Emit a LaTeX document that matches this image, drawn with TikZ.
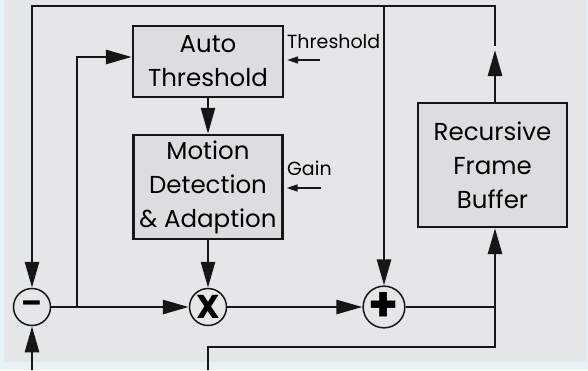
\documentclass[tikz,border=0pt]{standalone}
\usepackage{fontspec}
\setmainfont{Poppins}
\usepackage{tikz}
\usetikzlibrary{arrows.meta, positioning}
\definecolor{panel}{RGB}{229,230,232}
\definecolor{sky}{RGB}{232,243,248}
\definecolor{boxgray}{RGB}{220,221,223}
\definecolor{ink}{RGB}{22,22,22}

\begin{document}
\begin{tikzpicture}[
  x=1pt, y=-1pt,
  >={Triangle[length=26pt, width=14pt]},
  block/.style={
    rectangle, draw=ink, fill=boxgray, line width=2.4pt,
    inner sep=0pt, align=center,
    font=\fontsize{24.5}{34}\selectfont
  },
  junction/.style={
    circle, draw=ink, fill=panel, line width=1.5pt,
    minimum size=37pt, inner sep=0pt,
    font=\bfseries\fontsize{30}{30}\selectfont
  },
  wire/.style={draw=ink, line width=2.7pt},
  lbl/.style={font=\fontsize{19}{22}\selectfont, inner sep=0pt, anchor=base west},
  tick/.style={draw=ink, line width=1.6pt, -{Triangle[length=11pt, width=7pt]}}
]
  \fill[sky] (0,0) rectangle (588,370);
  \fill[panel] (4,0) rectangle (587,362);
  \useasboundingbox (0,0) rectangle (588,370);

  \node[block, minimum width=150pt, minimum height=71pt] (auto) at (208,61.5) {Auto\\Threshold};
  \node[block, minimum width=149pt, minimum height=104pt] (motion) at (208,187) {Motion\\Detection\\\& Adaption};
  \node[block, minimum width=149pt, minimum height=124pt] (buffer) at (492.5,165) {Recursive\\Frame\\Buffer};

  \node[junction] (sub) at (32,307) {--};
  \node[junction, font=\bfseries\fontsize{33}{33}\selectfont] (mul) at (208,307) {X};
  \node[junction, font=\bfseries\fontsize{48}{48}\selectfont] (add) at (384,307) {+};

  \coordinate (top left) at (32,6);
  \coordinate (fb tap) at (384,6);
  \coordinate (fb in) at (495,46);
  \coordinate (fb out) at (495,50);
  \coordinate (split) at (77,307);
  \coordinate (input) at (32,370);
  \coordinate (loop) at (208,370);
  \coordinate (loop turn) at (495,347);

  \draw[wire, ->] (fb in) |- (top left) -- (sub);
  \draw[wire, ->] (buffer.north -| fb out) -- (fb out);
  \draw[wire, ->] (fb tap) -- (add);
  \draw[wire, ->] (input) -- (sub);
  \draw[wire, ->] (split) |- ([yshift=4.5pt]auto.west);
  \draw[wire, ->] (sub) -- (mul);
  \draw[wire, ->] (mul) -- (add);
  \draw[wire, ->] (auto) -- (motion);
  \draw[wire, ->] (motion) -- (mul);
  \draw[wire] (add) -- (add -| loop turn);
  \draw[wire, ->] (loop) |- (loop turn) -- (buffer.south -| loop turn);

  \node[lbl] (thr) at (287,48) {Threshold};
  \node[lbl] (gain) at (287,175) {Gain};
  \coordinate (thr src) at (320,60);
  \coordinate (gain src) at (321,188);
  \draw[tick, shorten >=3pt] (thr src) -- (thr src -| auto.east);
  \draw[tick, shorten >=3pt] (gain src) -- (gain src -| motion.east);
\end{tikzpicture}
\end{document}
